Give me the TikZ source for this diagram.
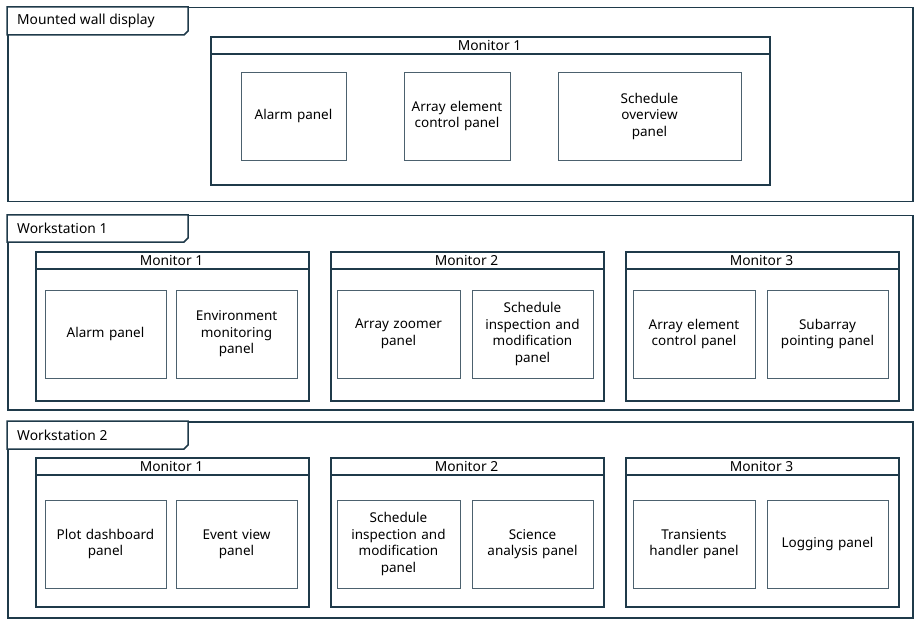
\documentclass[tikz,border=0pt]{standalone}
\usepackage{fontspec}
\setmainfont{Noto Sans}
\begin{document}
\definecolor{ink}{HTML}{1F3A4A}
\begin{tikzpicture}[x=1pt,y=-1pt,
  frame/.style={draw=ink,line width=1.5pt,anchor=north west,inner sep=0pt},
  mon/.style={draw=ink,line width=1.8pt,anchor=north west,inner sep=0pt},
  panel/.style={draw=ink!80,line width=1.3pt,anchor=north west,inner sep=0pt},
  lbl/.style={font=\fontsize{13.8}{15}\selectfont,inner sep=0pt},
  ptxt/.style={font=\fontsize{13.5}{16.5}\selectfont,align=center,text width=118pt,inner sep=0pt}]
\useasboundingbox (0,0) rectangle (919,623);
\newcommand{\mytab}[4]{%
  \draw[ink,line width=1.5pt,fill=white] (7,#2) -- (188,#2) -- (188,#3-4) -- (184,#3) -- (7,#3) -- cycle;
  \node[lbl,anchor=west] (#1) at (17,{(#2+#3)/2}) {#4};}
\newcommand{\mymon}[6]{%
  \node[mon,minimum width={#4-#2},minimum height={#5-#3}] (#1) at (#2,#3) {};
  \draw[ink,line width=1.5pt] (#2,#3+18) -- (#4,#3+18);
  \node[lbl] (#1t) at ({(#2+#4)/2},#3+9) {#6};}
\newcommand{\mypanel}[6]{%
  \node[panel,minimum width={#4-#2},minimum height={#5-#3}] (#1) at (#2,#3) {};
  \node[ptxt] (#1t) at ({(#2+#4)/2},{(#3+#5)/2}) {#6};}
% Wall
\node[frame,minimum width=905,minimum height=194] (wall) at (7,7) {};
\mytab{wallt}{7}{35}{Mounted wall display}
\mymon{wm}{210}{36}{769}{184}{Monitor 1}
\mypanel{wp1}{241}{72}{346}{160}{Alarm panel}
\mypanel{wp2}{404}{72}{510}{160}{Array element\\control panel}
\mypanel{wp3}{558}{72}{741}{160}{Schedule overview\\panel}
% WS1
\node[frame,minimum width=905,minimum height=194] (ws1) at (7,215) {};
\mytab{ws1t}{215}{242}{Workstation 1}
\mymon{am1}{35}{251}{308}{400}{Monitor 1}
\mymon{am2}{330}{251}{603}{400}{Monitor 2}
\mymon{am3}{625}{251}{898}{400}{Monitor 3}
\mypanel{ap1}{45}{290}{166}{378}{Alarm panel}
\mypanel{ap2}{176}{290}{297}{378}{Environment\\monitoring\\panel}
\mypanel{ap3}{337}{290}{460}{378}{Array zoomer\\panel}
\mypanel{ap4}{472}{290}{593}{378}{Schedule\\inspection and\\modification\\panel}
\mypanel{ap5}{633}{290}{755}{378}{Array element\\control panel}
\mypanel{ap6}{767}{290}{888}{378}{Subarray\\pointing panel}
% WS2
\node[frame,minimum width=905,minimum height=196] (ws2) at (7,421) {};
\mytab{ws2t}{421}{449}{Workstation 2}
\mymon{bm1}{35}{457}{308}{606}{Monitor 1}
\mymon{bm2}{330}{457}{603}{606}{Monitor 2}
\mymon{bm3}{625}{457}{898}{606}{Monitor 3}
\mypanel{bp1}{45}{500}{166}{588}{Plot dashboard\\panel}
\mypanel{bp2}{176}{500}{297}{588}{Event view\\panel}
\mypanel{bp3}{337}{500}{460}{588}{Schedule\\inspection and\\modification\\panel}
\mypanel{bp4}{472}{500}{593}{588}{Science\\analysis panel}
\mypanel{bp5}{633}{500}{755}{588}{Transients\\handler panel}
\mypanel{bp6}{767}{500}{888}{588}{Logging panel}
\end{tikzpicture}
\end{document}
